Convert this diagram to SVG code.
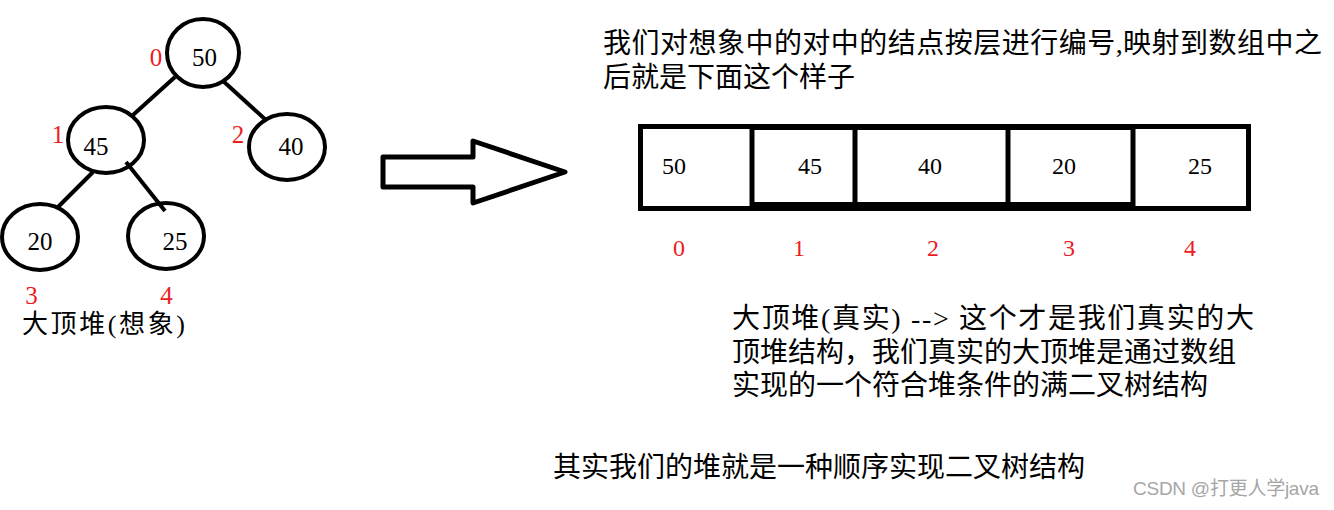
<svg xmlns="http://www.w3.org/2000/svg" width="1334" height="510" viewBox="0 0 1334 510">
<style>
.bg{fill:#ffffff}
.node{fill:none;stroke:#000;stroke-width:4}
.edge{stroke:#000;stroke-width:4;stroke-linecap:butt}
.num{font-family:"Liberation Serif","Times New Roman",serif;font-size:25px;fill:#000;text-anchor:middle}
.idx{font-family:"Liberation Serif","Times New Roman",serif;font-size:25px;fill:#ED1C24;text-anchor:middle}
.aidx{font-family:"Liberation Serif","Times New Roman",serif;font-size:24px;fill:#ED1C24;text-anchor:middle}
.anum{font-family:"Liberation Serif","Times New Roman",serif;font-size:24px;fill:#000;text-anchor:middle}
.cn{font-family:"Liberation Serif","Noto Sans CJK SC",serif;font-size:28px;fill:#000}
.cn27{font-family:"Liberation Serif","Noto Sans CJK SC",serif;font-size:26px;fill:#000}
.box{fill:#fff;stroke:#000;stroke-width:5}
.div{stroke:#000;stroke-width:5}
.wm{font-family:"Liberation Sans","Noto Sans CJK SC",sans-serif;font-size:19px;fill:#a6a6a6}
</style>
<rect class="bg" x="0" y="0" width="1334" height="510"/>

<g id="connectors">
  <line class="edge" x1="175" y1="77" x2="133" y2="115"/>
  <line class="edge" x1="222" y1="80" x2="267" y2="121"/>
  <line class="edge" x1="93" y1="172" x2="57" y2="208"/>
  <line class="edge" x1="126" y1="162" x2="165" y2="211"/>
  <polygon id="arrow" points="383,157 473,157 473,141 565,172 473,203 473,187 383,187" fill="#fff" stroke="#000" stroke-width="5" stroke-linejoin="round"/>
</g>

<g id="node-50">
  <ellipse class="node" cx="203" cy="53" rx="36" ry="34"/>
  <text class="num" x="204.5" y="66">50</text>
  <text class="idx" x="156" y="66">0</text>
</g>
<g id="node-45">
  <ellipse class="node" cx="106" cy="140" rx="38" ry="33"/>
  <text class="num" x="96" y="155">45</text>
  <text class="idx" x="58" y="143">1</text>
</g>
<g id="node-40">
  <ellipse class="node" cx="287" cy="147" rx="38" ry="33"/>
  <text class="num" x="291" y="155">40</text>
  <text class="idx" x="238" y="143">2</text>
</g>
<g id="node-20">
  <ellipse class="node" cx="40" cy="237" rx="38" ry="33"/>
  <text class="num" x="40" y="250">20</text>
  <text class="idx" x="31.5" y="304">3</text>
</g>
<g id="node-25">
  <ellipse class="node" cx="166" cy="236" rx="38" ry="33"/>
  <text class="num" x="175" y="250">25</text>
  <text class="idx" x="166.5" y="304">4</text>
</g>
<text class="cn27" x="22" y="333" textLength="163" lengthAdjust="spacing">大顶堆(想象)</text>

<g id="array">
  <rect class="box" x="640.5" y="126.5" width="608" height="82"/>
  <rect x="752" y="124" width="382" height="6" fill="#000"/>
  <rect x="752" y="202" width="382" height="9" fill="#000"/>
  <line class="div" x1="752" y1="124" x2="752" y2="211"/>
  <line class="div" x1="855" y1="124" x2="855" y2="211"/>
  <line class="div" x1="1008" y1="124" x2="1008" y2="211"/>
  <line class="div" x1="1133" y1="124" x2="1133" y2="211"/>
  <g id="cell-0"><text class="anum" x="674" y="174">50</text><text class="aidx" x="679" y="256">0</text></g>
  <g id="cell-1"><text class="anum" x="810" y="174">45</text><text class="aidx" x="799" y="256">1</text></g>
  <g id="cell-2"><text class="anum" x="930" y="174">40</text><text class="aidx" x="933" y="256">2</text></g>
  <g id="cell-3"><text class="anum" x="1064" y="174">20</text><text class="aidx" x="1069" y="256">3</text></g>
  <g id="cell-4"><text class="anum" x="1200" y="174">25</text><text class="aidx" x="1190" y="256">4</text></g>
</g>

<g id="notes">
  <text class="cn" x="603" y="53" textLength="719" lengthAdjust="spacing">我们对想象中的对中的结点按层进行编号,映射到数组中之</text>
  <text class="cn" x="603" y="87" textLength="252" lengthAdjust="spacing">后就是下面这个样子</text>
  <text class="cn" x="732" y="328" textLength="522" lengthAdjust="spacing">大顶堆(真实) --&gt; 这个才是我们真实的大</text>
  <text class="cn" x="732" y="362" textLength="504" lengthAdjust="spacing">顶堆结构，我们真实的大顶堆是通过数组</text>
  <text class="cn" x="732" y="395" textLength="476" lengthAdjust="spacing">实现的一个符合堆条件的满二叉树结构</text>
  <text class="cn" x="553" y="477" textLength="532" lengthAdjust="spacing">其实我们的堆就是一种顺序实现二叉树结构</text>
  <text class="wm" x="1133" y="495" textLength="186" lengthAdjust="spacing">CSDN @打更人学java</text>
</g>
</svg>
